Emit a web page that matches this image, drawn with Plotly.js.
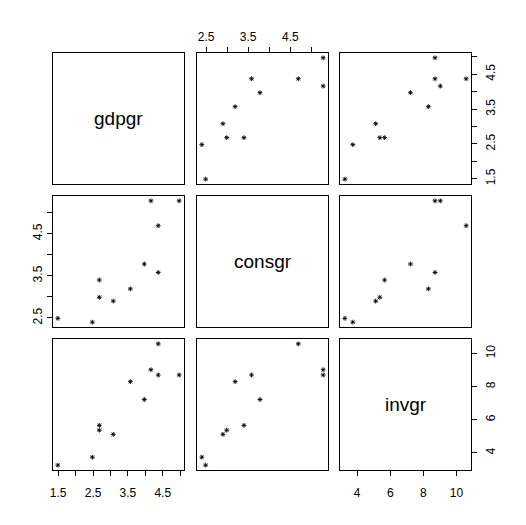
<!DOCTYPE html>
<html>
<head>
<meta charset="utf-8">
<script src="https://cdn.plot.ly/plotly-3.0.1.min.js"></script>
<style>html,body{margin:0;padding:0;background:#fff;}#plot{width:526px;height:525px;}</style>
</head>
<body>
<div id="plot"></div>
<script>
// Data
const varNames = ["gdpgr", "consgr", "invgr"];
const gdpgr  = [4.97, 4.37, 4.37, 4.16, 3.97, 3.57, 3.08, 2.68, 2.68, 2.48, 1.49];
const consgr = [5.28, 3.58, 4.69, 5.28, 3.78, 3.19, 2.90, 2.99, 3.40, 2.40, 2.49];
const invgr  = [8.70, 8.70, 10.58, 9.02, 7.22, 8.30, 5.12, 5.37, 5.66, 3.74, 3.26];

// Tick marks and labels
const gdpgrTicks = [1.5, 2, 2.5, 3, 3.5, 4, 4.5, 5];
const gdpgrTickText = ["1.5", "", "2.5", "", "3.5", "", "4.5", ""];
const consgrTicks = [2.5, 3, 3.5, 4, 4.5, 5];
const consgrTickText = ["2.5", "", "3.5", "", "4.5", ""];
const invgrTicks = [4, 6, 8, 10];
const invgrTickText = ["4", "6", "8", "10"];

const vars = [gdpgr, consgr, invgr];
const ticks = [gdpgrTicks, consgrTicks, invgrTicks];
const tickTexts = [gdpgrTickText, consgrTickText, invgrTickText];

const W = 526, H = 525;
const colPx = [[53, 184], [197, 328], [340, 471]];
const rowPx = [[53, 184], [196, 327], [339, 470]];
const FONT = "Liberation Sans, Arial, sans-serif";

function rng(a) {
  const mn = Math.min(...a), mx = Math.max(...a), d = mx - mn;
  return [mn - 0.04 * d, mx + 0.04 * d];
}

const traces = [];
const annotations = [];
const layout = {
  width: W, height: H,
  margin: {l: 0, r: 0, t: 0, b: 0},
  paper_bgcolor: "#fff", plot_bgcolor: "#fff",
  showlegend: false,
  font: {family: FONT, size: 12, color: "#000"},
  annotations: annotations
};

for (let r = 0; r < 3; r++) {
  for (let c = 0; c < 3; c++) {
    const idx = r * 3 + c + 1;
    const sfx = idx === 1 ? "" : String(idx);
    const xa = {
      domain: [colPx[c][0] / W, colPx[c][1] / W],
      range: rng(vars[c]),
      anchor: "y" + sfx,
      showgrid: false, zeroline: false,
      showline: true, mirror: true, linecolor: "#000", linewidth: 1,
      fixedrange: true,
      showticklabels: false, ticks: ""
    };
    const ya = {
      domain: [1 - rowPx[r][1] / H, 1 - rowPx[r][0] / H],
      range: rng(vars[r]),
      anchor: "x" + sfx,
      showgrid: false, zeroline: false,
      showline: true, mirror: true, linecolor: "#000", linewidth: 1,
      fixedrange: true,
      showticklabels: false, ticks: ""
    };
    let xside = null;
    if (r === 0 && c === 1) xside = "top";
    if (r === 2 && (c === 0 || c === 2)) xside = "bottom";
    if (xside) {
      Object.assign(xa, {
        side: xside, ticks: "outside", ticklen: 5, tickcolor: "#000", tickwidth: 1,
        showticklabels: true, tickmode: "array",
        tickvals: ticks[c], ticktext: tickTexts[c],
        tickfont: {family: FONT, size: 12, color: "#000"},
        ticklabelstandoff: xside === "bottom" ? 7 : 1
      });
    }
    let yside = null;
    if (c === 0 && r === 1) yside = "left";
    if (c === 2 && (r === 0 || r === 2)) yside = "right";
    if (yside) {
      Object.assign(ya, {
        side: yside, ticks: "outside", ticklen: 5, tickcolor: "#000", tickwidth: 1,
        showticklabels: true, tickmode: "array",
        tickvals: ticks[r], ticktext: tickTexts[r],
        tickangle: -90,
        tickfont: {family: FONT, size: 12, color: "#000"},
        ticklabelstandoff: yside === "right" ? 4 : 0
      });
    }
    layout["xaxis" + sfx] = xa;
    layout["yaxis" + sfx] = ya;

    if (r === c) {
      traces.push({x: [], y: [], type: "scatter", mode: "markers",
        xaxis: "x" + sfx, yaxis: "y" + sfx, hoverinfo: "skip"});
      const xr = xa.range, yr = ya.range;
      annotations.push({
        xref: "x" + sfx, yref: "y" + sfx,
        x: (xr[0] + xr[1]) / 2, y: (yr[0] + yr[1]) / 2,
        text: varNames[r], showarrow: false,
        font: {family: FONT, size: 19, color: "#000"},
        xanchor: "center", yanchor: "middle"
      });
    } else {
      traces.push({
        x: vars[c], y: vars[r], type: "scatter", mode: "markers",
        xaxis: "x" + sfx, yaxis: "y" + sfx,
        marker: {symbol: "asterisk-open", size: 4, color: "#000",
                 line: {color: "#000", width: 0.9}},
        hoverinfo: "skip"
      });
    }
  }
}

Plotly.newPlot("plot", traces, layout, {displayModeBar: false, staticPlot: true});
</script>
</body>
</html>
